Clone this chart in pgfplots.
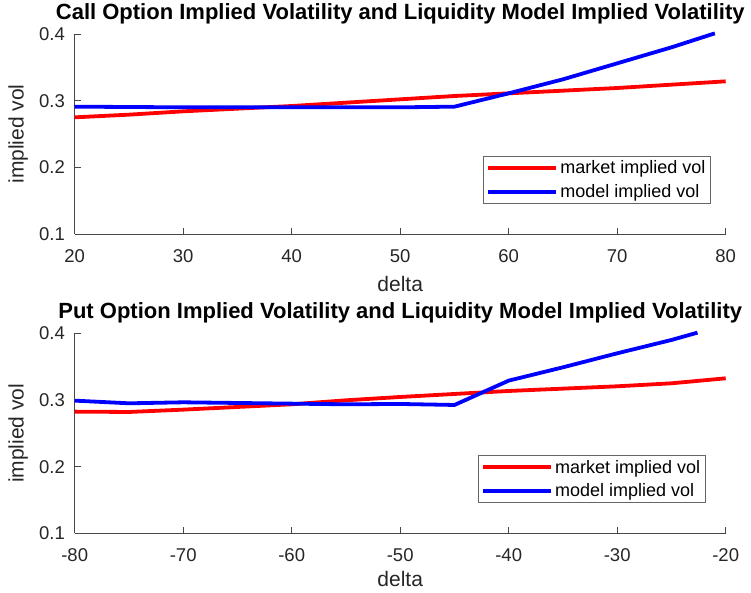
\documentclass[border=0pt]{standalone}
\usepackage{pgfplots}
\pgfplotsset{compat=1.18}
\usepackage{fontspec}
\setmainfont{Liberation Sans}

\pgfplotstableread{
x y
20 0.275
25 0.279
30 0.284
35 0.288
40 0.292
45 0.297
50 0.302
55 0.307
60 0.311
65 0.315
70 0.319
75 0.324
80 0.329
}\callmarket
\pgfplotstableread{
x y
20 0.291
25 0.2905
30 0.290
35 0.290
40 0.290
45 0.290
50 0.290
55 0.291
60 0.311
65 0.332
70 0.356
75 0.380
79 0.401
}\callmodel
\pgfplotstableread{
x y
-80 0.2825
-75 0.282
-70 0.2855
-65 0.2895
-60 0.2935
-55 0.2995
-50 0.3045
-45 0.309
-40 0.3135
-35 0.317
-30 0.3205
-25 0.325
-20 0.3325
}\putmarket
\pgfplotstableread{
x y
-80 0.299
-75 0.295
-70 0.2965
-65 0.2955
-60 0.2945
-55 0.2935
-50 0.294
-45 0.2925
-40 0.329
-35 0.349
-30 0.370
-25 0.390
-22.6 0.401
}\putmodel

\pgfplotsset{
 mystyle/.style={
  scale only axis, width=651pt, height=200pt,
  axis x line*=bottom, axis y line*=left,
  axis line style={black!72, line width=0.8pt, -},
  tick style={black!72, line width=0.8pt},
  tick align=inside, major tick length=6pt,
  ymin=0.1, ymax=0.4, ytick={0.1,0.2,0.3,0.4},
  clip=false,
  /pgf/number format/assume math mode=true,
  yticklabel style={/pgf/number format/fixed, /pgf/number format/fixed zerofill, /pgf/number format/precision=1},
  ticklabel style={font=\fontsize{18.5}{22}\selectfont, text=black!85},
  xticklabel style={inner sep=0pt, anchor=north, yshift=-15.5pt},
  yticklabel style={inner sep=0pt, anchor=east, xshift=-9.7pt},
  label style={font=\fontsize{21}{25}\selectfont, text=black!85},
  xlabel style={at={(axis description cs:0.5,-0.212)}, anchor=north, inner sep=0pt},
  ylabel style={at={(axis description cs:-0.0713,0.5)}, anchor=south, inner sep=0pt},
  title style={at={(axis description cs:0.5,1.043)}, anchor=base, inner sep=0pt, font=\bfseries\fontsize{22}{26}\selectfont},
  legend cell align=left,
  legend image code/.code={\draw[##1] (0pt,0pt) -- (62pt,0pt); \path (0pt,0pt) -- (68pt,0pt);},
  legend style={anchor=south east, draw=black!60, line width=0.8pt, fill=white,
    font=\fontsize{18}{22}\selectfont, inner xsep=3pt, inner ysep=2.5pt, row sep=5pt,
    nodes={inner sep=2pt}},
  xlabel={delta}, ylabel={implied vol},
 },
 mkt/.style={red, line width=3.8pt},
 mdl/.style={blue, line width=3.8pt},
}

\begin{document}
\begin{tikzpicture}
\path[use as bounding box] (0pt,0pt) rectangle (751pt,592pt);
\begin{axis}[mystyle, at={(74.7pt,358pt)}, anchor=south west,
  xmin=20, xmax=80, xtick={20,30,...,80},
  title={Call Option Implied Volatility and Liquidity Model Implied Volatility},
  legend style={at={(axis description cs:0.977,0.151)}}]
\addplot[mkt] table {\callmarket};
\addlegendentry{market implied vol}
\addplot[mdl] table {\callmodel};
\addlegendentry{model implied vol}
\end{axis}
\begin{axis}[mystyle, at={(74.7pt,58.7pt)}, anchor=south west,
  xmin=-80, xmax=-20, xtick={-80,-70,...,-20},
  xlabel style={at={(axis description cs:0.5,-0.19)}},
  title={Put Option Implied Volatility and Liquidity Model Implied Volatility},
  legend style={at={(axis description cs:0.969,0.151)}}]
\addplot[mkt] table {\putmarket};
\addlegendentry{market implied vol}
\addplot[mdl] table {\putmodel};
\addlegendentry{model implied vol}
\end{axis}
\end{tikzpicture}
\end{document}
